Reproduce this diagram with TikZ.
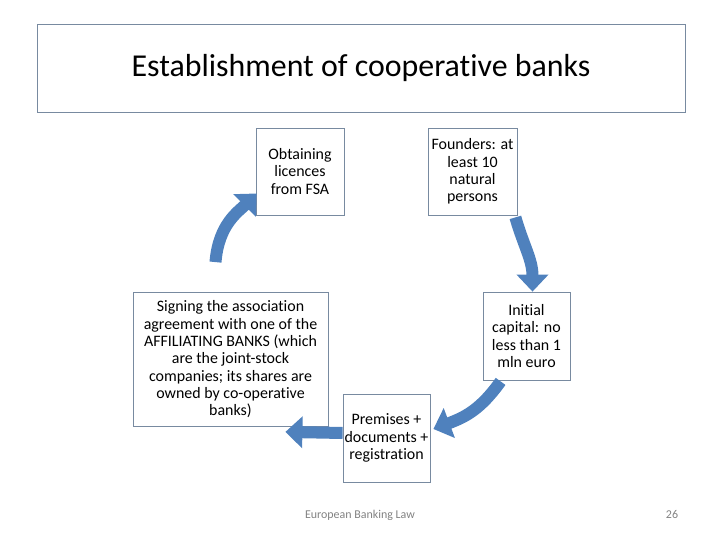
\documentclass[tikz,border=0pt]{standalone}
\usepackage{fontspec}
\setmainfont[Ligatures=NoCommon]{Carlito}
\usetikzlibrary{arrows.meta,calc}
\definecolor{boxline}{RGB}{120,138,160}
\definecolor{arrowblue}{RGB}{79,129,189}
\definecolor{footgray}{RGB}{130,130,130}
\begin{document}
\begin{tikzpicture}[x=1bp,y=-1bp,
  stepbox/.style={draw=boxline, line width=0.8bp, inner sep=0pt, align=center,
    font=\fontsize{16}{17.4}\selectfont},
  flow/.style={draw=arrowblue, line width=12bp, -{Triangle[width=31bp,length=17bp]}},
  foot/.style={text=footgray, font=\fontsize{12}{14}\selectfont, inner sep=0pt}]
\useasboundingbox (0,0) rectangle (720,540);

\node[draw=boxline, line width=0.8bp, minimum width=648bp, minimum height=88bp,
  font=\fontsize{32}{36}\selectfont] (title) at (361,68) {Establishment of cooperative banks};

\node[stepbox, minimum width=88bp, minimum height=87bp] (obtain) at (300,171.5)
  {Obtaining\\licences\\from FSA};
\node[stepbox, minimum width=89bp, minimum height=87bp] (founders) at (472.5,171.5)
  {Founders: at\\least 10\\natural\\persons};
\node[stepbox, minimum width=87bp, minimum height=88bp] (initial) at (526.5,336)
  {Initial\\capital: no\\less than 1\\mln euro};
\node[stepbox, minimum width=195bp, minimum height=134bp] (signing) at (230.5,359.5)
  {Signing the association\\agreement with one of the\\AFFILIATING BANKS (which\\are the joint-stock\\companies; its shares are\\owned by co-operative\\banks)};
\node[stepbox, minimum width=87bp, minimum height=88bp] (premises) at (386.5,438)
  {Premises +\\documents +\\registration};

\coordinate (t1) at ($(founders.south east)+(-2,2)$);
\coordinate (h1) at ($(initial.north)+(6,0)$);
\draw[flow] (t1) .. controls +(8,28) and +(0,-32) .. (h1);

\coordinate (t2) at ($(initial.south west)+(18,1)$);
\coordinate (h2) at ($(premises.east)+(3,-9)$);
\draw[flow] (t2) .. controls +(-20,28) and +(32,-12) .. (h2);

\coordinate (t3) at ($(premises.west)+(0,-5)$);
\coordinate (h3) at ($(signing.south east)+(-43,5)$);
\draw[flow] (t3) -- (h3);

\coordinate (t4) at ($(signing.north)+(-15,-30)$);
\coordinate (h4) at ($(obtain.west)+(1,22)$);
\draw[flow] (t4) .. controls +(3,-38) and +(-18,18) .. (h4);

\node[foot] (footer) at (360,515) {European Banking Law};
\node[foot] (page) at (672,515) {26};
\end{tikzpicture}
\end{document}
